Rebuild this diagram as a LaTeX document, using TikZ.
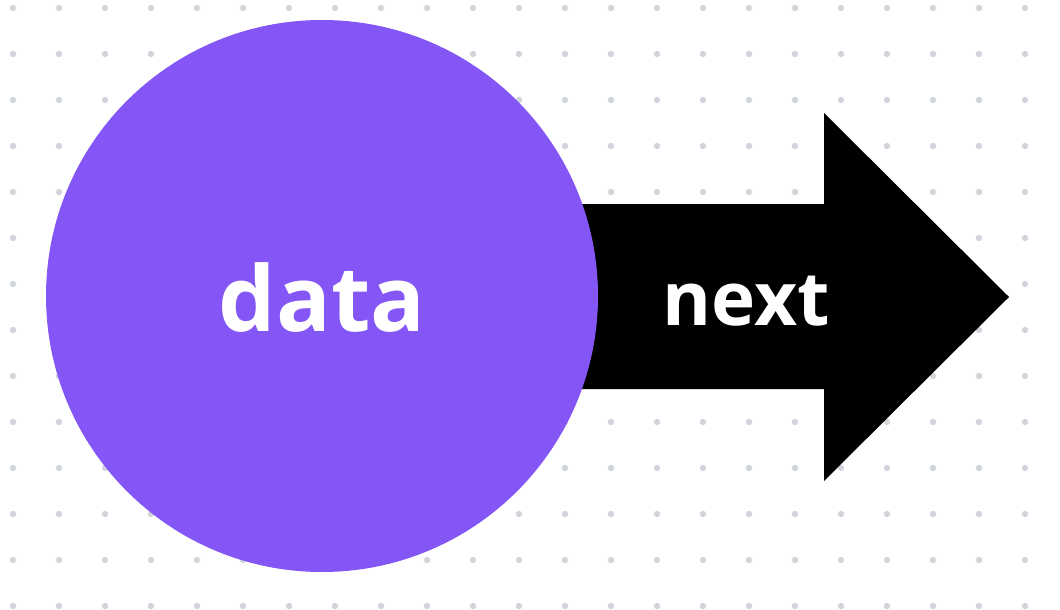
\documentclass[tikz,border=0pt]{standalone}
\usepackage{fontspec}
\setmainfont{Open Sans}
\definecolor{dotgray}{HTML}{D1D5DB}
\definecolor{nodepurple}{HTML}{8456F5}

\begin{document}
\begin{tikzpicture}[x=0.75pt,y=-0.75pt]
\useasboundingbox (0,0) rectangle (1060,610);
\foreach \i in {0,...,22}
  \foreach \j in {0,...,13}
    \fill[dotgray] (13+46*\i,8+46*\j) circle (3.2);
\fill (560,204) -- (824,204) -- (824,113) -- (1009,297) -- (824,481) -- (824,389) -- (560,389) -- cycle;
\node[circle,fill=nodepurple,minimum size=552*0.75pt,inner sep=0pt] (data) at (322.000,296.000) {};
\node[text=white,font=\bfseries\fontsize{68}{76}\selectfont] (datalabel) at (322.000,297.000) {data};
\node[text=white,font=\bfseries\fontsize{56}{64}\selectfont] (next) at (746.000,301.000) {next};
\end{tikzpicture}
\end{document}
